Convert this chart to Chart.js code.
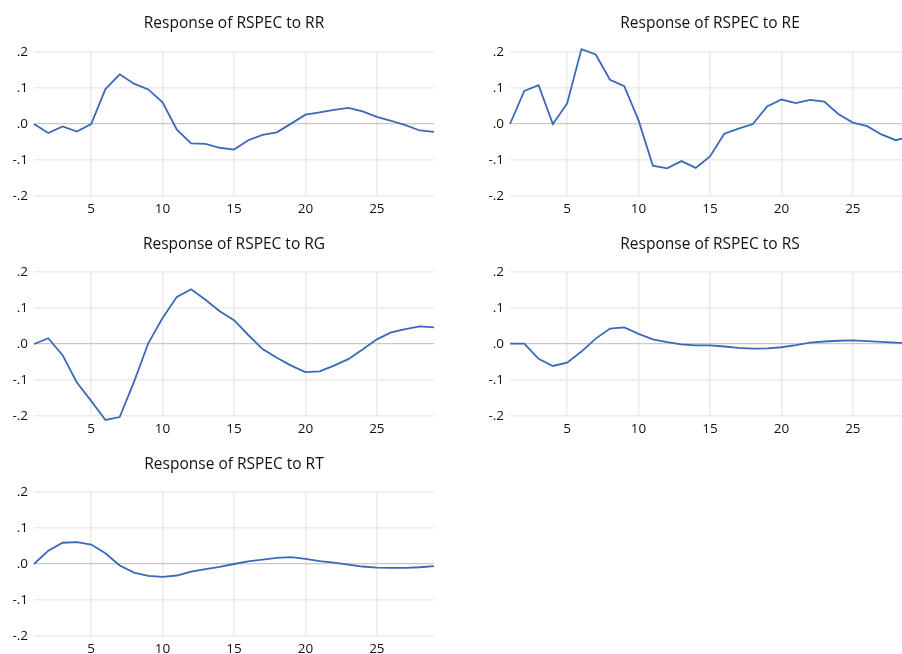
<!DOCTYPE html>
<html>
<head>
<meta charset="utf-8">
<script src="https://cdn.jsdelivr.net/npm/chart.js@4.4.0/dist/chart.umd.min.js"></script>
<style>
  html, body { margin:0; padding:0; background:#fff; width:902px; height:654px; overflow:hidden; position:relative; }
  canvas { position:absolute; }
</style>
</head>
<body>
<canvas id="c1" width="452" height="220" style="left:0px;top:0px;width:452px;height:220px"></canvas>
<canvas id="c2" width="520" height="220" style="left:450px;top:0px;width:520px;height:220px"></canvas>
<canvas id="c3" width="452" height="220" style="left:0px;top:220px;width:452px;height:220px"></canvas>
<canvas id="c4" width="520" height="220" style="left:450px;top:220px;width:520px;height:220px"></canvas>
<canvas id="c5" width="452" height="220" style="left:0px;top:440px;width:452px;height:220px"></canvas>
<script>
// ---- data ----
const periods = [1,2,3,4,5,6,7,8,9,10,11,12,13,14,15,16,17,18,19,20,21,22,23,24,25,26,27,28,29];
const xTickValues = [5,10,15,20,25];
const yTickValues = [-0.2,-0.1,0,0.1,0.2];
const titles = ["Response of RSPEC to RR","Response of RSPEC to RE","Response of RSPEC to RG","Response of RSPEC to RS","Response of RSPEC to RT"];

const respRR = [0,-0.025,-0.007,-0.021,0.0,0.097,0.138,0.112,0.096,0.060,-0.016,-0.054,-0.055,-0.066,-0.071,-0.045,-0.030,-0.023,0.001,0.026,0.032,0.039,0.045,0.035,0.020,0.009,-0.003,-0.018,-0.022];
const respRE = [0,0.092,0.108,0.0,0.057,0.208,0.193,0.123,0.105,0.010,-0.116,-0.123,-0.103,-0.122,-0.090,-0.027,-0.013,0.0,0.049,0.068,0.058,0.067,0.062,0.027,0.004,-0.006,-0.029,-0.045,-0.035];
const respRG = [0,0.016,-0.031,-0.107,-0.158,-0.211,-0.203,-0.105,0.002,0.072,0.131,0.152,0.123,0.091,0.066,0.025,-0.014,-0.038,-0.060,-0.078,-0.076,-0.060,-0.042,-0.015,0.013,0.032,0.041,0.049,0.046];
const respRS = [0.001,0.001,-0.041,-0.061,-0.052,-0.021,0.015,0.043,0.046,0.028,0.013,0.005,-0.001,-0.004,-0.004,-0.007,-0.011,-0.013,-0.012,-0.009,-0.003,0.004,0.007,0.009,0.010,0.008,0.006,0.004,0.002];
const respRT = [0,0.037,0.059,0.061,0.054,0.030,-0.004,-0.024,-0.033,-0.036,-0.032,-0.021,-0.014,-0.008,0.0,0.007,0.012,0.017,0.019,0.014,0.008,0.004,-0.002,-0.007,-0.010,-0.011,-0.011,-0.009,-0.006];

// ---- styling ----
const LINE = '#3b69b8';
const GRID = '#ececec';
const ZERO = '#c8c8c8';
const TEXT = '#111111';
const FONT = "'Open Sans', 'Noto Sans', sans-serif";

function fmtY(v) {
  const r = Math.round(v * 10) / 10;
  if (Math.abs(r) < 1e-9) return '.0';
  const s = Math.abs(r).toFixed(1).replace(/^0/, '');
  return (r < 0 ? '-' : '') + s;
}

function makeChart(id, title, values, yWidth, padRight, titleTop) {
  const pts = periods.map((p, i) => ({x: p, y: values[i]}));
  return new Chart(document.getElementById(id), {
    type: 'line',
    data: { datasets: [{ data: pts, borderColor: LINE, borderWidth: 1.8, pointRadius: 0, tension: 0, fill: false, clip: false }] },
    options: {
      responsive: false,
      animation: false,
      devicePixelRatio: 1,
      layout: { padding: { left: 0, right: padRight, top: 0, bottom: 0 } },
      plugins: {
        legend: { display: false },
        tooltip: { enabled: false },
        title: {
          display: true, text: title, fullSize: false,
          color: TEXT,
          font: { family: FONT, size: 15.5, weight: 'normal', lineHeight: 1.2 },
          padding: { top: titleTop, bottom: 52 - 18.6 - titleTop }
        }
      },
      scales: {
        x: {
          type: 'linear', min: periods[0], max: periods[periods.length - 1],
          afterBuildTicks: (axis) => { axis.ticks = xTickValues.map(v => ({value: v})); },
          afterFit: (axis) => { axis.height = 24; },
          grid: { color: GRID, lineWidth: 1.6, drawTicks: false },
          border: { display: false },
          ticks: { padding: 5, color: TEXT, font: { family: FONT, size: 13.5 }, maxRotation: 0, autoSkip: false }
        },
        y: {
          min: -0.2, max: 0.2,
          afterBuildTicks: (axis) => { axis.ticks = yTickValues.map(v => ({value: v})); },
          afterFit: (axis) => { axis.width = yWidth; },
          grid: {
            drawTicks: false,
            lineWidth: (ctx) => (ctx.tick && Math.abs(ctx.tick.value) < 1e-9) ? 1.3 : 1.6,
            color: (ctx) => (ctx.tick && Math.abs(ctx.tick.value) < 1e-9) ? ZERO : GRID
          },
          border: { display: false },
          ticks: { padding: 6, color: TEXT, font: { family: FONT, size: 13.5 }, callback: (v) => fmtY(v) }
        }
      }
    }
  });
}

makeChart('c1', titles[0], respRR, 34, 18, 14);
makeChart('c2', titles[1], respRE, 60, 60, 14);
makeChart('c3', titles[2], respRG, 34, 18, 15);
makeChart('c4', titles[3], respRS, 60, 60, 15);
makeChart('c5', titles[4], respRT, 34, 18, 15);
</script>
</body>
</html>
